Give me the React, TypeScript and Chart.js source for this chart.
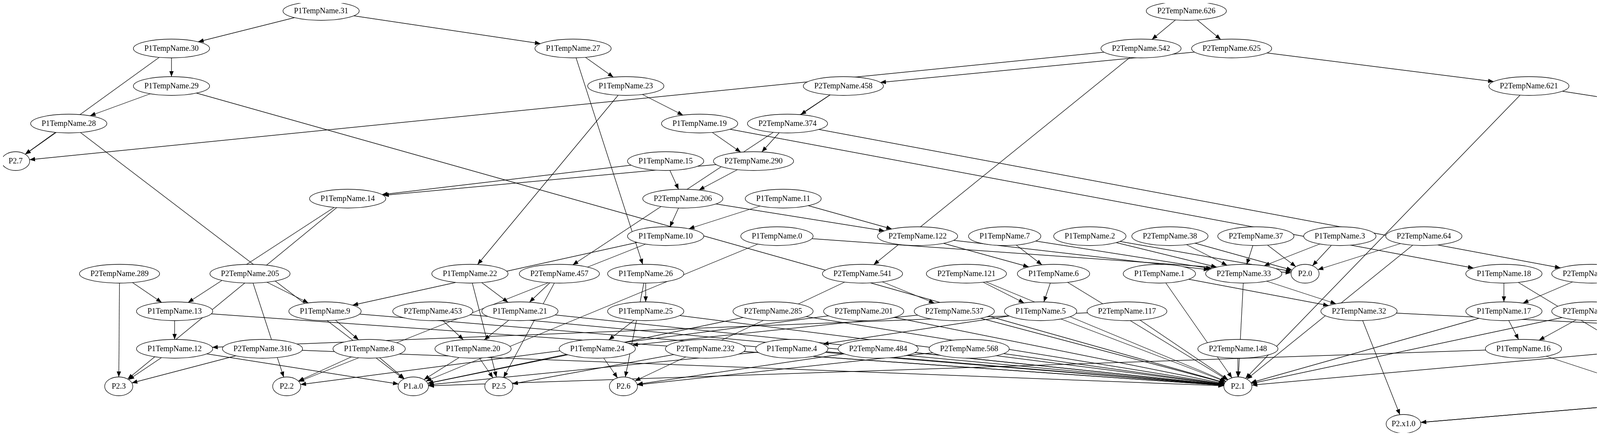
import React, { useEffect, useRef } from 'react';
import Chart from 'chart.js/auto';

// node names, horizontal positions (px in the drawing) and rank (row)
const nodeNames = [
  'P1TempName.31', 'P1TempName.30', 'P1TempName.29', 'P1TempName.28', 'P2.7', 'P1TempName.14',
  'P2TempName.289', 'P2TempName.205', 'P1TempName.22', 'P1TempName.13', 'P1TempName.9', 'P2TempName.453',
  'P1TempName.21', 'P1TempName.12', 'P2TempName.316', 'P1TempName.8', 'P1TempName.20', 'P2.3', 'P2.2',
  'P1.a.0', 'P2.5',
  'P1TempName.27', 'P1TempName.23', 'P2TempName.458', 'P1TempName.19', 'P2TempName.374', 'P1TempName.15',
  'P2TempName.290', 'P2TempName.206', 'P1TempName.11', 'P1TempName.10', 'P1TempName.0', 'P2TempName.122',
  'P1TempName.7', 'P1TempName.2', 'P2TempName.457', 'P1TempName.26', 'P2TempName.541', 'P2TempName.121',
  'P1TempName.6', 'P1TempName.25', 'P2TempName.285', 'P2TempName.201', 'P2TempName.537', 'P1TempName.5',
  'P1TempName.24', 'P2TempName.232', 'P1TempName.4', 'P2TempName.484', 'P2TempName.568', 'P2.6',
  'P2TempName.626', 'P2TempName.542', 'P2TempName.625', 'P2TempName.621', 'P2TempName.38', 'P2TempName.37',
  'P1TempName.3', 'P2TempName.64', 'P1TempName.1', 'P2TempName.33', 'P2.0', 'P1TempName.18', 'P2TempName.373',
  'P2TempName.117', 'P2TempName.32', 'P1TempName.17', 'P2TempName.369', 'P2TempName.148', 'P1TempName.16',
  'P2TempName.400', 'P2.1', 'P2.x1.0',
  'P2TempName.620', 'P2TempName.594', 'P2TempName.536', 'P2TempName.510', 'P2TempName.452', 'P2TempName.426',
  'P2TempName.368', 'P2TempName.342', 'P2TempName.284', 'P2TempName.116', 'P2TempName.258', 'P2TempName.200',
  'P2TempName.174', 'P2.mem.0', 'P2TempName.90', 'P2.4',
];
const nodeX = [
  822, 439, 439, 176, 40, 890,
  306, 640, 1203, 447, 832, 1108,
  1331, 447, 672, 945, 1211, 304, 734,
  1058, 1277,
  1467, 1602, 2159, 1791, 2016, 1704,
  1929, 1748, 2005, 1704, 1989, 2349,
  2572, 2790, 1432, 1653, 2208, 2474,
  2697, 1653, 1979, 2211, 2443, 2664,
  1529, 1806, 2027, 2248, 2481, 1596,
  3037, 2921, 3153, 3914, 2995, 3215,
  3430, 3645, 2968, 3184, 3341, 3850, 4075,
  2885, 3479, 3850, 4075, 3169, 3900,
  4240, 3169, 3593,
  4532, 4532, 5060, 4634, 5134, 4769,
  5122, 4796, 5163, 4740, 4986, 5231,
  4881, 5406, 4734, 4486,
];
const nodeRank = [
  0, 1, 2, 3, 4, 5,
  7, 7, 7, 8, 8, 8,
  8, 9, 9, 9, 9, 10, 10,
  10, 10,
  1, 2, 2, 3, 3, 4,
  4, 5, 5, 6, 6, 6,
  6, 6, 7, 7, 7, 7,
  7, 8, 8, 8, 8, 8,
  9, 9, 9, 9, 9, 10,
  0, 1, 1, 2, 6, 6,
  6, 6, 7, 7, 7, 7, 7,
  8, 8, 8, 8, 9, 9,
  9, 10, 11,
  3, 4, 4, 5, 5, 6,
  6, 7, 7, 8, 8, 8,
  9, 9, 10, 11,
];

const edgeFrom = [
  'P1TempName.31', 'P1TempName.31', 'P1TempName.30', 'P1TempName.30', 'P1TempName.29', 'P1TempName.29',
  'P1TempName.28', 'P1TempName.28', 'P2TempName.542', 'P1TempName.27', 'P1TempName.27', 'P1TempName.23',
  'P1TempName.23', 'P2TempName.458', 'P2TempName.458', 'P1TempName.19', 'P1TempName.19', 'P2TempName.374',
  'P2TempName.374', 'P1TempName.15', 'P1TempName.15', 'P2TempName.290', 'P2TempName.290', 'P2TempName.206',
  'P2TempName.206', 'P1TempName.11', 'P1TempName.11', 'P1TempName.14', 'P1TempName.14', 'P1TempName.10',
  'P1TempName.10', 'P1TempName.0', 'P1TempName.0', 'P2TempName.122', 'P2TempName.122', 'P1TempName.7',
  'P1TempName.7', 'P1TempName.2', 'P1TempName.2', 'P2TempName.38', 'P2TempName.38', 'P2TempName.37',
  'P2TempName.37', 'P1TempName.3', 'P1TempName.3', 'P2TempName.64', 'P2TempName.64', 'P2TempName.625',
  'P2TempName.625', 'P2TempName.626', 'P2TempName.626', 'P2TempName.542', 'P2TempName.621', 'P2TempName.621',
  'P2TempName.620', 'P2TempName.620', 'P2TempName.594', 'P2TempName.594', 'P2TempName.536', 'P2TempName.536',
  'P2TempName.510', 'P2TempName.510', 'P2TempName.452', 'P2TempName.452', 'P2TempName.426', 'P2TempName.426',
  'P2TempName.368', 'P2TempName.368', 'P2TempName.342', 'P2TempName.342', 'P2TempName.284', 'P2TempName.284',
  'P2TempName.258', 'P2TempName.258', 'P2TempName.116', 'P2TempName.116', 'P2TempName.200', 'P2TempName.200',
  'P2TempName.174', 'P2TempName.174', 'P2TempName.90', 'P2TempName.90', 'P2TempName.541', 'P2TempName.541',
  'P2TempName.121', 'P2TempName.121', 'P1TempName.6', 'P1TempName.6', 'P1TempName.5', 'P1TempName.5',
  'P2TempName.537', 'P2TempName.537', 'P2TempName.285', 'P2TempName.285', 'P2TempName.201', 'P2TempName.201',
  'P2TempName.232', 'P2TempName.232', 'P1TempName.4', 'P1TempName.4', 'P2TempName.484', 'P2TempName.484',
  'P2TempName.568', 'P2TempName.568', 'P1TempName.26', 'P1TempName.26', 'P1TempName.25', 'P1TempName.25',
  'P1TempName.24', 'P1TempName.24', 'P2TempName.457', 'P2TempName.457', 'P1TempName.22', 'P1TempName.22',
  'P1TempName.21', 'P1TempName.21', 'P2TempName.453', 'P2TempName.453', 'P1TempName.20', 'P1TempName.20',
  'P2TempName.289', 'P2TempName.289', 'P2TempName.205', 'P2TempName.205', 'P1TempName.13', 'P1TempName.13',
  'P1TempName.9', 'P1TempName.9', 'P1TempName.12', 'P1TempName.12', 'P2TempName.316', 'P2TempName.316',
  'P1TempName.8', 'P1TempName.8', 'P2TempName.117', 'P2TempName.117', 'P1TempName.1', 'P1TempName.1',
  'P2TempName.33', 'P2TempName.33', 'P2TempName.32', 'P2TempName.32', 'P2TempName.148', 'P1TempName.18',
  'P1TempName.18', 'P2TempName.373', 'P2TempName.373', 'P1TempName.17', 'P1TempName.17', 'P2TempName.369',
  'P2TempName.369', 'P1TempName.16', 'P1TempName.16', 'P2TempName.400', 'P2TempName.400', 'P2TempName.90',
];
const edgeTo = [
  'P1TempName.30', 'P1TempName.27', 'P2.7', 'P1TempName.29', 'P1TempName.28', 'P2.1',
  'P2.7', 'P1.a.0', 'P2.7', 'P1TempName.23', 'P1TempName.26', 'P1TempName.19',
  'P1TempName.22', 'P2TempName.374', 'P2TempName.457', 'P2TempName.290', 'P1TempName.18', 'P2TempName.290',
  'P2TempName.373', 'P1TempName.14', 'P2TempName.206', 'P1TempName.14', 'P2TempName.206', 'P1TempName.10',
  'P2TempName.122', 'P1TempName.10', 'P2TempName.122', 'P2.3', 'P1TempName.13', 'P1TempName.9',
  'P2.2', 'P1.a.0', 'P2.0', 'P1TempName.6', 'P2TempName.33', 'P1TempName.6',
  'P2TempName.33', 'P2TempName.33', 'P2.0', 'P2TempName.33', 'P2.0', 'P2TempName.33',
  'P2.0', 'P2TempName.33', 'P2.0', 'P2.0', 'P2.1', 'P2TempName.458',
  'P2TempName.621', 'P2TempName.542', 'P2TempName.625', 'P2TempName.541', 'P2TempName.620', 'P2.1',
  'P2TempName.594', 'P2.mem.0', 'P2TempName.510', 'P2.4', 'P2TempName.510', 'P2.mem.0',
  'P2TempName.426', 'P2.4', 'P2TempName.426', 'P2.mem.0', 'P2TempName.342', 'P2.4',
  'P2TempName.342', 'P2.mem.0', 'P2TempName.258', 'P2.4', 'P2TempName.258', 'P2.mem.0',
  'P2TempName.174', 'P2.4', 'P2TempName.90', 'P2.mem.0', 'P2TempName.174', 'P2.mem.0',
  'P2TempName.90', 'P2.4', 'P2.4', 'P2.x1.0', 'P2.6', 'P2TempName.537',
  'P1TempName.5', 'P2.1', 'P1TempName.5', 'P2.1', 'P1TempName.4', 'P2.1',
  'P1TempName.24', 'P2.1', 'P2.1', 'P1.a.0', 'P2.1', 'P2.2',
  'P2.1', 'P2.5', 'P2.1', 'P1.a.0', 'P2.1', 'P2.6',
  'P2.1', 'P2.6', 'P1TempName.25', 'P2.6', 'P1TempName.24', 'P2.1',
  'P2.6', 'P1.a.0', 'P1TempName.21', 'P2.5', 'P1TempName.21', 'P2.5',
  'P1TempName.20', 'P2.1', 'P1TempName.20', 'P2.1', 'P1.a.0', 'P2.5',
  'P1TempName.13', 'P2.3', 'P1TempName.9', 'P2.2', 'P1TempName.12', 'P2.1',
  'P1TempName.8', 'P2.1', 'P2.3', 'P1.a.0', 'P2.3', 'P2.1',
  'P2.2', 'P1.a.0', 'P1TempName.12', 'P2.1', 'P2TempName.32', 'P2.1',
  'P2TempName.32', 'P2.1', 'P2.x1.0', 'P2.mem.0', 'P2.1', 'P1TempName.17',
  'P2.4', 'P1TempName.17', 'P2.4', 'P1TempName.16', 'P2.1', 'P1TempName.16',
  'P2.1', 'P1.a.0', 'P2.4', 'P2.1', 'P2.4', 'P2.x1.0',
];

const FONT = '20px "Liberation Serif", "DejaVu Serif", serif';
const ROW_TOP = 28;
const ROW_STEP = 96;
const RY = 24;

const App: React.FC = () => {
  const canvasRef = useRef<HTMLCanvasElement | null>(null);

  useEffect(() => {
    if (!canvasRef.current) return;
    const idx: Record<string, number> = {};
    nodeNames.forEach((n, i) => (idx[n] = i));

    const measure = document.createElement('canvas').getContext('2d')!;
    measure.font = FONT;
    const rx = nodeNames.map(n => {
      const w = measure.measureText(n).width;
      return n.startsWith('P2.') || n.startsWith('P1.') ? Math.max(w / 2 + 14, 36) : w / 2 + 28;
    });

    const pairs = edgeFrom.map((f, i) => [idx[f], idx[edgeTo[i]]]).filter(p => p[0] !== undefined && p[1] !== undefined);

    const edgeSets = pairs.map(([a, b]) => ({
      type: 'line' as const,
      data: [
        { x: nodeX[a], y: nodeRank[a] },
        { x: nodeX[b], y: nodeRank[b] },
      ],
      borderColor: '#000',
      borderWidth: 1.3,
      pointRadius: 0,
      fill: false,
    }));

    const graphPlugin = {
      id: 'graph',
      afterDatasetsDraw(chart: any) {
        const { ctx, scales } = chart;
        const xs = scales.x, ys = scales.y;
        const px = (i: number) => xs.getPixelForValue(nodeX[i]);
        const py = (i: number) => ys.getPixelForValue(nodeRank[i]);
        ctx.save();
        // arrowheads
        ctx.fillStyle = '#000';
        pairs.forEach(([a, b]) => {
          const dx = px(a) - px(b), dy = py(a) - py(b);
          const t = 1 / Math.sqrt((dx / rx[b]) ** 2 + (dy / RY) ** 2);
          const ex = px(b) + dx * t, ey = py(b) + dy * t;
          const ang = Math.atan2(-dy, -dx);
          const L = 14, W = 5.5;
          ctx.beginPath();
          ctx.moveTo(ex, ey);
          ctx.lineTo(ex - L * Math.cos(ang) + W * Math.sin(ang), ey - L * Math.sin(ang) - W * Math.cos(ang));
          ctx.lineTo(ex - L * Math.cos(ang) - W * Math.sin(ang), ey - L * Math.sin(ang) + W * Math.cos(ang));
          ctx.closePath();
          ctx.fill();
        });
        // nodes
        nodeNames.forEach((n, i) => {
          ctx.beginPath();
          ctx.ellipse(px(i), py(i), rx[i], RY, 0, 0, Math.PI * 2);
          ctx.fillStyle = '#fff';
          ctx.fill();
          ctx.lineWidth = 1.3;
          ctx.strokeStyle = '#000';
          ctx.stroke();
          ctx.fillStyle = '#000';
          ctx.font = FONT;
          ctx.textAlign = 'center';
          ctx.textBaseline = 'middle';
          ctx.fillText(n, px(i), py(i) + 1);
        });
        ctx.restore();
      },
    };

    const chart = new Chart(canvasRef.current, {
      type: 'scatter',
      data: { datasets: edgeSets as any },
      options: {
        animation: false,
        responsive: false,
        layout: { padding: 0 },
        plugins: { legend: { display: false }, tooltip: { enabled: false } },
        scales: {
          x: { type: 'linear', display: false, min: 8, max: 5519 },
          y: {
            type: 'linear',
            display: false,
            reverse: true,
            min: (8 - ROW_TOP) / ROW_STEP,
            max: (1107 - ROW_TOP) / ROW_STEP,
          },
        },
      },
      plugins: [graphPlugin],
    });

    return () => chart.destroy();
  }, []);

  return (
    <div style={{ width: 5511, height: 1099, background: '#fff' }}>
      <canvas ref={canvasRef} width={5511} height={1099} style={{ display: 'block' }} />
    </div>
  );
};

export default App;
